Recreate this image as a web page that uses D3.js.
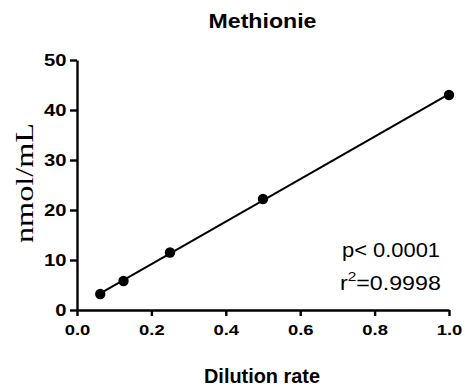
<!DOCTYPE html>
<html>
<head>
<meta charset="utf-8">
<script src="https://cdn.jsdelivr.net/npm/d3@7"></script>
<style>
body { margin: 0; background: #fff; }
</style>
</head>
<body>
<svg width="465" height="390"></svg>
<script>
const dilution = [0.0625, 0.125, 0.25, 0.5, 1.0]
const conc = [3.2, 5.8, 11.5, 22.2, 43.0]
const xTicks = [0, 0.2, 0.4, 0.6, 0.8, 1.0]
const yTicks = [0, 10, 20, 30, 40, 50]

const sans = 'Arial, "Liberation Sans", sans-serif'
const stretch = 1.19 // the original's lettering is a bit wide
const svg = d3.select('svg')
const x = d3.scaleLinear().domain([0, 1]).range([77, 449])
const y = d3.scaleLinear().domain([0, 50]).range([310, 60])

// least squares fit
const n = dilution.length
const mx = d3.mean(dilution), my = d3.mean(conc)
const slope = d3.sum(dilution, (d, i) => (d - mx) * (conc[i] - my)) / d3.sum(dilution, d => (d - mx) ** 2)
const icpt = my - slope * mx

const xAxis = svg.append('g')
	.attr('transform', `translate(0,${y(0)})`)
	.call(d3.axisBottom(x).tickValues(xTicks).tickFormat(d3.format('.1f')).tickSize(6).tickSizeOuter(0))
const yAxis = svg.append('g')
	.attr('transform', `translate(${x(0)},0)`)
	.call(d3.axisLeft(y).tickValues(yTicks).tickSize(7).tickSizeOuter(0))

;[xAxis, yAxis].forEach(g => {
	g.attr('font-family', sans).attr('font-weight', 'bold')
	g.select('.domain').attr('stroke', '#000').attr('stroke-width', 2.4)
	g.selectAll('.tick line').attr('stroke', '#000').attr('stroke-width', 2.4)
	g.selectAll('.tick text').attr('fill', '#000')
})
xAxis.attr('font-size', 15.5)
xAxis.selectAll('.tick text')
	.attr('y', 25).attr('dy', 0)
	.attr('transform', `scale(${stretch},1)`)
yAxis.attr('font-size', 17)
yAxis.selectAll('.tick text')
	.attr('x', -10.5 / stretch)
	.attr('transform', `scale(${stretch},1)`)

svg.append('line')
	.attr('x1', x(dilution[0])).attr('y1', y(icpt + slope * dilution[0]))
	.attr('x2', x(dilution[n - 1])).attr('y2', y(icpt + slope * dilution[n - 1]))
	.attr('stroke', '#000').attr('stroke-width', 2)

svg.selectAll('circle')
	.data(dilution)
	.join('circle')
	.attr('cx', d => x(d))
	.attr('cy', (d, i) => y(conc[i]))
	.attr('r', 5.2)
	.attr('fill', '#000')

svg.append('text')
	.attr('x', 262.5).attr('y', 27.5)
	.attr('text-anchor', 'middle')
	.attr('font-family', sans).attr('font-weight', 'bold').attr('font-size', 20)
	.attr('textLength', 108).attr('lengthAdjust', 'spacingAndGlyphs')
	.text('Methionie')

svg.append('text')
	.attr('x', 262).attr('y', 383)
	.attr('text-anchor', 'middle')
	.attr('font-family', sans).attr('font-weight', 'bold').attr('font-size', 20)
	.attr('textLength', 116).attr('lengthAdjust', 'spacingAndGlyphs')
	.text('Dilution rate')

svg.append('text')
	.attr('transform', 'translate(33,183) rotate(-90)')
	.attr('text-anchor', 'middle')
	.attr('font-family', '"Times New Roman", "Liberation Serif", serif').attr('font-size', 26)
	.attr('textLength', 120).attr('lengthAdjust', 'spacingAndGlyphs')
	.text('nmol/mL')

const note = svg.append('g').attr('font-family', sans).attr('font-size', 19.5)
note.append('text')
	.attr('x', 342).attr('y', 257)
	.attr('textLength', 98).attr('lengthAdjust', 'spacingAndGlyphs')
	.text('p< 0.0001')
const r2 = note.append('text')
	.attr('transform', `translate(340,290) scale(${stretch},1)`)
r2.append('tspan').text('r')
r2.append('tspan').attr('dy', -9).attr('font-size', 13).text('2')
r2.append('tspan').attr('dy', 9).text('=0.9998')
</script>
</body>
</html>
